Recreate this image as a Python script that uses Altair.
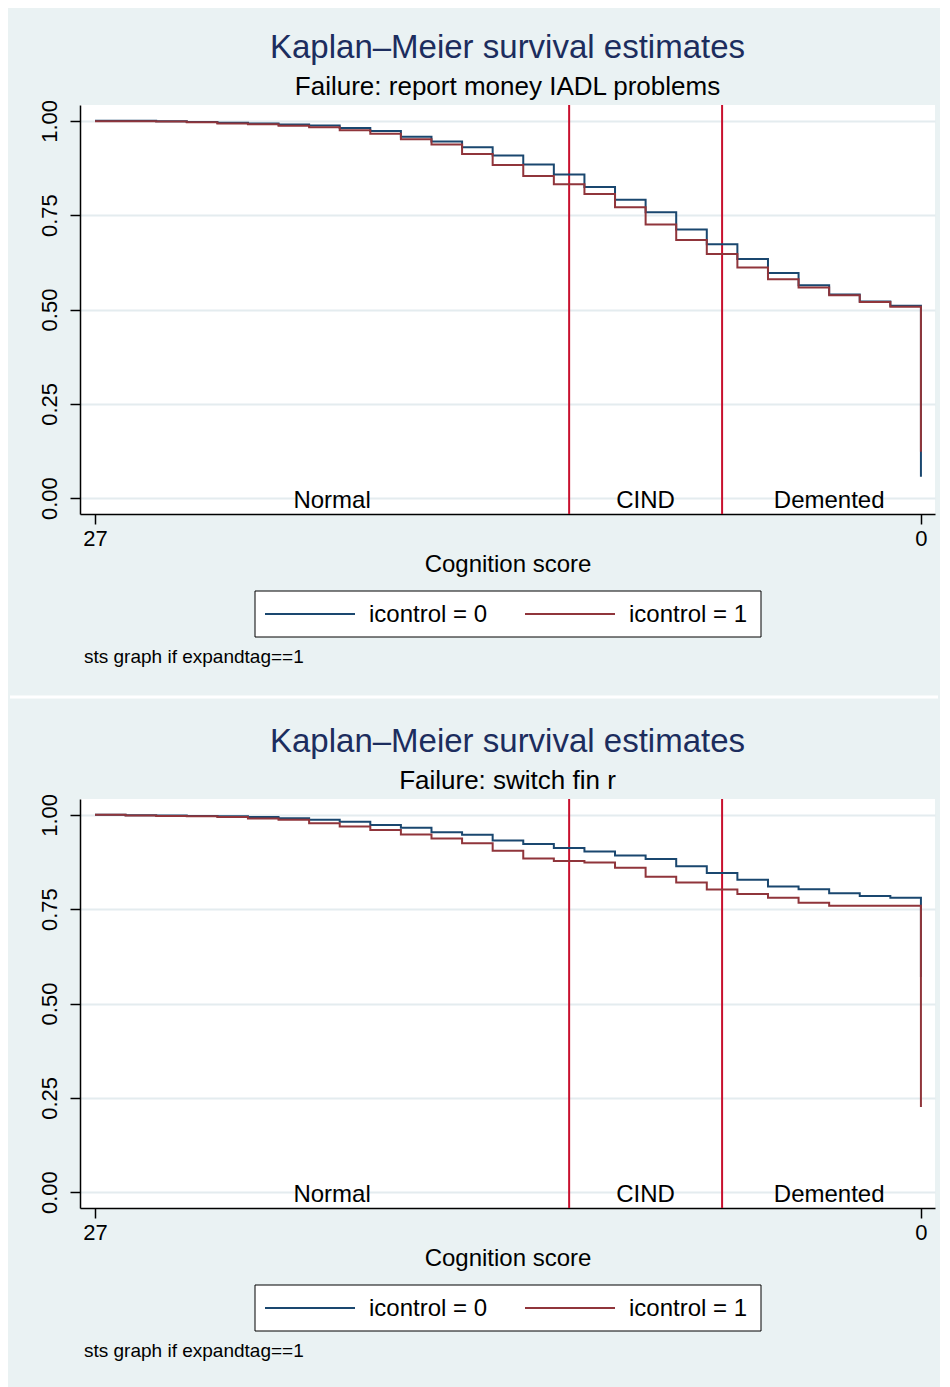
import altair as alt
import pandas as pd

# ---------------- data ----------------
scores = list(range(27, -1, -1))            # cognition score 27 .. 0
legend_labels = ["icontrol = 0", "icontrol = 1"]

# Panel 1: Failure: report money IADL problems
km1_ctrl0 = [1.000, 1.000, 0.999, 0.997, 0.995, 0.993, 0.990, 0.988, 0.981, 0.973,
             0.958, 0.945, 0.930, 0.908, 0.884, 0.858, 0.825, 0.791, 0.758, 0.712,
             0.673, 0.634, 0.597, 0.564, 0.540, 0.521, 0.510, 0.057]
km1_ctrl1 = [0.999, 0.999, 0.998, 0.996, 0.993, 0.991, 0.987, 0.983, 0.975, 0.966,
             0.951, 0.937, 0.912, 0.883, 0.854, 0.832, 0.806, 0.771, 0.725, 0.684,
             0.647, 0.611, 0.580, 0.558, 0.538, 0.520, 0.507, 0.123]

# Panel 2: Failure: switch fin r
km2_ctrl0 = [1.000, 0.999, 0.998, 0.997, 0.996, 0.994, 0.991, 0.987, 0.982, 0.973,
             0.966, 0.954, 0.947, 0.932, 0.923, 0.912, 0.903, 0.892, 0.883, 0.864,
             0.846, 0.828, 0.810, 0.803, 0.792, 0.785, 0.780, 0.570]
km2_ctrl1 = [1.000, 0.998, 0.997, 0.996, 0.994, 0.990, 0.987, 0.978, 0.969, 0.960,
             0.948, 0.937, 0.925, 0.905, 0.884, 0.878, 0.874, 0.860, 0.836, 0.821,
             0.802, 0.790, 0.780, 0.767, 0.759, 0.759, 0.759, 0.226]

cutoffs = [11.5, 6.5]
region_names = ["Normal", "CIND", "Demented"]
region_mid = [19.25, 9.0, 3.0]

y_ticks = [0, 0.25, 0.5, 0.75, 1.0]
x_ticks = [27, 0]

titles = ["Kaplan\u2013Meier survival estimates", "Kaplan\u2013Meier survival estimates"]
subtitles = ["Failure: report money IADL problems", "Failure: switch fin r"]
note_text = "sts graph if expandtag==1"

# ---------------- style ----------------
FONT = "Liberation Sans"
BLUE = "#1A476F"
RED = "#90353B"
CUT = "#C8102E"
BG = "#EAF2F3"
W, H = 855, 409


def panel(title, subtitle, ctrl0, ctrl1, separator):
    rows = []
    for g, vals in zip(legend_labels, [ctrl0, ctrl1]):
        for i, (s, v) in enumerate(zip(scores, vals)):
            rows.append({"score": s, "step": i, "surv": v, "group": g})
    df = pd.DataFrame(rows)

    xs = alt.Scale(domain=[-0.46, 27.49], reverse=True, nice=False, zero=False)
    ys = alt.Scale(domain=[-0.042, 1.042], nice=False, zero=False)
    cs = alt.Scale(domain=legend_labels, range=[BLUE, RED])

    x_enc = alt.X("score:Q", scale=xs,
                  axis=alt.Axis(values=x_ticks, title="Cognition score", grid=False,
                                labelFontSize=22, titleFontSize=24, tickSize=10,
                                labelPadding=4, titlePadding=3, format="d"))
    y_enc = alt.Y("surv:Q", scale=ys,
                  axis=alt.Axis(values=y_ticks, title=None, format=".2f", grid=True,
                                labelAngle=270, labelAlign="center",
                                labelBaseline="alphabetic", labelFontSize=22,
                                tickSize=10, labelPadding=14))
    color = alt.Color("group:N", scale=cs, legend=None)

    base = alt.Chart(df).encode(x=x_enc, y=y_enc, color=color,
                                order=alt.Order("step:Q"))
    line0 = base.transform_filter(alt.datum.group == legend_labels[0]).mark_line(
        interpolate="step-after", strokeWidth=2)
    line1 = base.transform_filter(alt.datum.group == legend_labels[1]).mark_line(
        interpolate="step-after", strokeWidth=2)

    cut_df = pd.DataFrame({"cut": cutoffs})
    cuts = alt.Chart(cut_df).mark_rule(color=CUT, strokeWidth=2).encode(
        x=alt.X("cut:Q", scale=xs))

    reg_df = pd.DataFrame({"name": region_names, "mid": region_mid,
                           "base": [0.0] * len(region_names)})
    regions = alt.Chart(reg_df).mark_text(
        font=FONT, fontSize=24, color="black", baseline="alphabetic", dy=10
    ).encode(x=alt.X("mid:Q", scale=xs), y=alt.Y("base:Q", scale=ys), text="name:N")

    note = alt.Chart(pd.DataFrame({"t": [note_text]})).mark_text(
        font=FONT, fontSize=19, color="black", align="left", baseline="middle"
    ).encode(x=alt.value(4), y=alt.value(552), text="t:N")

    # legend box (drawn as marks for exact Stata-like layout)
    box = alt.Chart(pd.DataFrame({"a": [0]})).mark_rect(
        fill="white", stroke="black", strokeWidth=1).encode(
        x=alt.value(175), x2=alt.value(681), y=alt.value(486), y2=alt.value(532))
    leg_layers = [box]
    for g, x0 in zip(legend_labels, [185, 445]):
        gdf = pd.DataFrame({"group": [g]})
        leg_layers.append(alt.Chart(gdf).mark_rule(strokeWidth=2).encode(
            x=alt.value(x0), x2=alt.value(x0 + 90), y=alt.value(509),
            color=alt.Color("group:N", scale=cs, legend=None)))
        leg_layers.append(alt.Chart(gdf).mark_text(
            font=FONT, fontSize=24, color="black", align="left", baseline="middle"
        ).encode(x=alt.value(x0 + 104), y=alt.value(510), text="group:N"))

    layers = [cuts, line0, line1, regions, note] + leg_layers
    if separator:
        sep = alt.Chart(pd.DataFrame({"a": [0]})).mark_rule(
            color="white", strokeWidth=3).encode(
            x=alt.value(-70), x2=alt.value(858), y=alt.value(592))
        layers.append(sep)

    return alt.layer(*layers).properties(
        width=W, height=H,
        title=alt.TitleParams(text=title, subtitle=subtitle, font=FONT, fontSize=33,
                              fontWeight="normal", color="#1C2D5E",
                              subtitleFont=FONT, subtitleFontSize=26,
                              subtitleColor="black", subtitlePadding=9,
                              anchor="middle", frame="group", offset=-1))


p1 = panel(titles[0], subtitles[0], km1_ctrl0, km1_ctrl1, True)
p2 = panel(titles[1], subtitles[1], km2_ctrl0, km2_ctrl1, False)

chart = alt.vconcat(p1, p2, spacing=27).properties(
    background=BG,
    padding={"left": 0, "top": 24, "right": 0, "bottom": 60},
).configure_view(fill="white", stroke=None).configure_axis(
    domainColor="black", domainWidth=1.5, tickColor="black", tickWidth=1.5,
    labelFont=FONT, titleFont=FONT, labelColor="black", titleColor="black",
    titleFontWeight="normal", gridColor="#E4ECEF", gridWidth=2
)

chart.save("out.html", embed_options={"renderer": "svg", "actions": False})
